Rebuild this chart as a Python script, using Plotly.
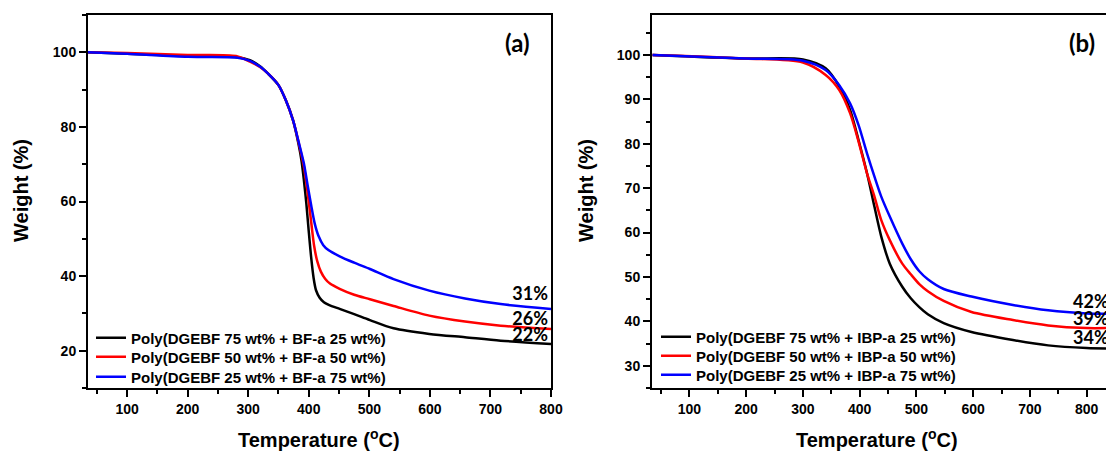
import plotly.graph_objects as go

# ---------------- data: panel (a) ----------------
temp_a1 = [35, 100, 200, 280, 303, 320, 332, 350, 362, 374, 383, 388, 392, 396, 400, 404, 408, 412, 418, 425, 433, 451, 475, 501, 540, 599, 658, 717, 800]
bf25 = [100, 99.6, 99.0, 98.7, 97.9, 96.2, 94.4, 91.2, 87.2, 81.8, 75.5, 71.0, 65.7, 59.5, 52.0, 45.0, 39.5, 36.2, 34.2, 33.0, 32.3, 31.2, 29.8, 28.2, 26.0, 24.5, 23.6, 22.7, 21.8]
temp_a2 = [35, 100, 200, 280, 303, 320, 332, 350, 362, 374, 383, 392, 398, 404, 409, 414, 420, 427, 435, 451, 475, 501, 540, 599, 658, 717, 800]
bf50 = [100, 99.8, 99.3, 99.0, 97.5, 96.0, 94.4, 91.2, 87.2, 81.8, 76.0, 69.3, 62.5, 54.5, 48.0, 44.0, 41.2, 39.3, 38.0, 36.6, 35.0, 33.8, 32.0, 29.4, 27.8, 26.7, 25.8]
temp_a3 = [35, 100, 200, 280, 303, 320, 332, 350, 362, 374, 383, 392, 398, 404, 410, 416, 424, 433, 451, 475, 501, 540, 599, 658, 717, 800]
bf75 = [100, 99.6, 98.8, 98.6, 97.7, 96.1, 94.4, 91.2, 87.2, 81.8, 76.2, 70.2, 64.5, 59.0, 54.0, 50.8, 48.3, 46.9, 45.3, 43.6, 41.9, 39.2, 36.1, 34.0, 32.5, 31.2]
names_a = ["Poly(DGEBF 75 wt% + BF-a 25 wt%)",
           "Poly(DGEBF 50 wt% + BF-a 50 wt%)",
           "Poly(DGEBF 25 wt% + BF-a 75 wt%)"]
labels_a = ["22%", "26%", "31%"]
label_y_a = [23.9, 28.2, 34.9]

# ---------------- data: panel (b) ----------------
temp_b = [35, 199, 300, 340, 364, 383, 398, 413, 426, 438, 453, 475, 490, 505, 520, 548, 597, 670, 732, 800, 834]
ibp25 = [100, 99.2, 99.0, 97.0, 92.9, 87.6, 80.8, 73.3, 65.8, 59.1, 53.0, 47.8, 45.2, 43.2, 41.6, 39.6, 37.6, 35.8, 34.6, 34.0, 33.9]
ibp50 = [100, 99.2, 98.3, 95.5, 92.1, 86.9, 80.5, 73.3, 68.1, 62.8, 58.3, 53.0, 50.6, 48.4, 46.8, 44.6, 42.1, 40.3, 39.1, 38.5, 38.5]
ibp75 = [100, 99.2, 98.7, 96.6, 93.2, 89.1, 84.2, 77.8, 72.6, 68.1, 63.6, 57.5, 54.0, 51.3, 49.5, 47.3, 45.6, 43.7, 42.5, 41.8, 41.7]
names_b = ["Poly(DGEBF 75 wt% + IBP-a 25 wt%)",
           "Poly(DGEBF 50 wt% + IBP-a 50 wt%)",
           "Poly(DGEBF 25 wt% + IBP-a 75 wt%)"]
labels_b = ["34%", "39%", "42%"]
label_y_b = [36.0, 40.2, 44.1]

colors = ["#000000", "#ff0000", "#0000ff"]

W, H = 1106, 451
def px_x(p): return p / W
def px_y(p): return 1 - p / H

legend_rows_a = [338, 357, 377]
legend_rows_b = [337, 356, 375]

fig = go.Figure()
for i, (tx, ys, nm, c) in enumerate(zip([temp_a1, temp_a2, temp_a3], [bf25, bf50, bf75], names_a, colors)):
    fig.add_trace(go.Scatter(x=tx, y=ys, name=nm, mode="lines",
                             line=dict(color=c, width=2.5, shape="spline", smoothing=0.8),
                             xaxis="x", yaxis="y", legend="legend" if i == 0 else f"legend{i+1}"))
for i, (ys, nm, c) in enumerate(zip([ibp25, ibp50, ibp75], names_b, colors)):
    fig.add_trace(go.Scatter(x=temp_b, y=ys, name=nm, mode="lines",
                             line=dict(color=c, width=2.5, shape="spline", smoothing=0.8),
                             xaxis="x2", yaxis="y2", legend=f"legend{i+4}"))

# residue labels (text traces, clipped to the plot area like the reference)
pct_font = dict(family="Lato", size=18, color="black", weight="bold")
fig.add_trace(go.Scatter(x=[795] * len(labels_a), y=label_y_a, text=labels_a, mode="text",
                         textposition="middle left", textfont=pct_font, showlegend=False,
                         hoverinfo="skip", xaxis="x", yaxis="y"))
fig.add_trace(go.Scatter(x=[776] * len(labels_b), y=label_y_b, text=labels_b, mode="text",
                         textposition="middle right", textfont=pct_font, showlegend=False,
                         hoverinfo="skip", xaxis="x2", yaxis="y2"))

tickfont = dict(family="Liberation Sans, Arial", size=14, color="black", weight="bold")
axis_common = dict(showline=True, linecolor="black", linewidth=2, ticks="outside",
                   ticklen=7, tickwidth=2, tickcolor="black", showgrid=False,
                   zeroline=False, tickfont=tickfont, automargin=False)
minor_common = dict(ticks="outside", ticklen=4, tickwidth=1.5, tickcolor="black")

ytop, ybot = 15, 388
legend_font = dict(family="Liberation Sans, Arial", size=15, color="black", weight="bold")
legends = {}
for i, r in enumerate(legend_rows_a):
    key = "legend" if i == 0 else f"legend{i+1}"
    legends[key] = dict(x=px_x(91), y=px_y(r), xanchor="left", yanchor="middle",
                        bgcolor="rgba(0,0,0,0)", itemwidth=30, font=legend_font, borderwidth=0)
for i, r in enumerate(legend_rows_b):
    legends[f"legend{i+4}"] = dict(x=px_x(656), y=px_y(r), xanchor="left", yanchor="middle",
                                   bgcolor="rgba(0,0,0,0)", itemwidth=30, font=legend_font, borderwidth=0)

fig.update_layout(
    template="none",
    width=W, height=H, margin=dict(l=0, r=0, t=0, b=0, autoexpand=False),
    paper_bgcolor="white", plot_bgcolor="white", showlegend=True,
    xaxis=dict(domain=[px_x(88), px_x(551)], range=[35.5, 800], dtick=100, tick0=0,
               mirror=True, anchor="y", minor=dict(dtick=50, **minor_common), **axis_common),
    yaxis=dict(domain=[px_y(ybot), px_y(ytop)], range=[10, 110], dtick=20, tick0=0,
               mirror=True, anchor="x", minor=dict(dtick=10, **minor_common), **axis_common),
    xaxis2=dict(domain=[px_x(652), 1.0], range=[34, 834], dtick=100, tick0=0,
                mirror=True, anchor="y2", minor=dict(dtick=50, **minor_common), **axis_common),
    yaxis2=dict(domain=[px_y(ybot), px_y(ytop)], range=[25, 109], dtick=10, tick0=0,
                mirror=False, anchor="x2", minor=dict(dtick=5, **minor_common), **axis_common),
    **legends,
)

title_font = dict(family="Liberation Sans, Arial", size=20, color="black", weight="bold")
ann = []
ann.append(dict(text="Temperature (<sup>o</sup>C)", x=px_x(319), y=px_y(438), xref="paper", yref="paper",
                showarrow=False, font=title_font, xanchor="center", yanchor="middle"))
ann.append(dict(text="Temperature (<sup>o</sup>C)", x=px_x(877), y=px_y(438), xref="paper", yref="paper",
                showarrow=False, font=title_font, xanchor="center", yanchor="middle"))
ann.append(dict(text="Weight (%)", x=px_x(21), y=px_y(191), xref="paper", yref="paper", textangle=-90,
                showarrow=False, font=title_font, xanchor="center", yanchor="middle"))
ann.append(dict(text="Weight (%)", x=px_x(586), y=px_y(191), xref="paper", yref="paper", textangle=-90,
                showarrow=False, font=title_font, xanchor="center", yanchor="middle"))
panel_font = dict(family="Lato", size=24, color="black", weight="bold")
ann.append(dict(text="(a)", x=px_x(517), y=px_y(42), xref="paper", yref="paper",
                showarrow=False, font=panel_font, xanchor="center", yanchor="middle"))
ann.append(dict(text="(b)", x=px_x(1082), y=px_y(42), xref="paper", yref="paper",
                showarrow=False, font=panel_font, xanchor="center", yanchor="middle"))
fig.update_layout(annotations=ann)

fig.write_html("out.html", config={"displayModeBar": False},
               post_script="document.body.style.margin='0';document.body.style.overflow='hidden';")
